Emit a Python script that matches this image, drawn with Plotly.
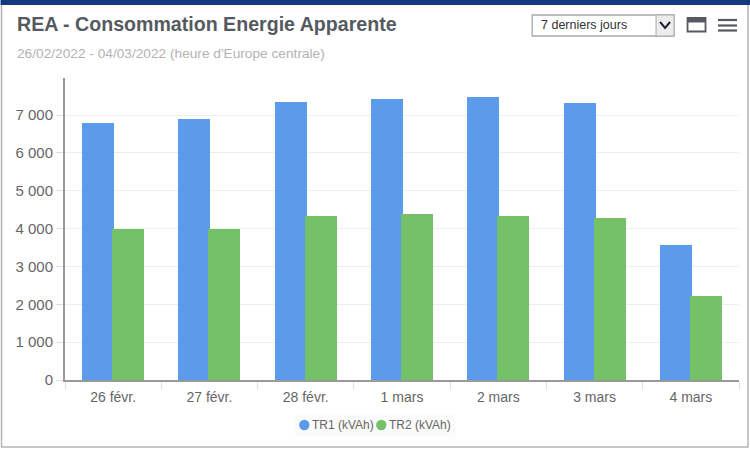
import plotly.graph_objects as go

categories = ["26 févr.", "27 févr.", "28 févr.", "1 mars", "2 mars", "3 mars", "4 mars"]
tr1 = [6790, 6890, 7350, 7430, 7470, 7320, 3570]
tr2 = [4000, 4000, 4340, 4390, 4340, 4290, 2230]
y_ticks = [0, 1000, 2000, 3000, 4000, 5000, 6000, 7000]
y_labels = ["0", "1 000", "2 000", "3 000", "4 000", "5 000", "6 000", "7 000"]
series_names = ["TR1 (kVAh)", "TR2 (kVAh)"]

W, H = 750, 450
L, R, T, B = 64.5, 739, 78, 380
BLUE, GREEN = "#5b9bea", "#74c167"
FONT = "Liberation Sans, Arial, sans-serif"

def X(v): return (v - L) / (R - L)
def Y(v): return (B - v) / (B - T)

fig = go.Figure()
fig.add_bar(x=categories, y=tr1, name=series_names[0], width=0.332, offset=-0.322,
            marker=dict(color=BLUE, line_width=0), hoverinfo="skip")
fig.add_bar(x=categories, y=tr2, name=series_names[1], width=0.332, offset=-0.01,
            marker=dict(color=GREEN, line_width=0), hoverinfo="skip")

def rect(x0, y0, x1, y1, **kw):
    return dict(type="rect", xref="paper", yref="paper", x0=X(x0), x1=X(x1), y0=Y(y0), y1=Y(y1), **kw)

def circle(cx, cy, r, color):
    return dict(type="circle", xref="paper", yref="paper", x0=X(cx - r), x1=X(cx + r), y0=Y(cy + r), y1=Y(cy - r),
                fillcolor=color, line_width=0)

shapes = [
    rect(1, 2, 748, 447, line=dict(color="#b4b4b4", width=1.5), fillcolor="rgba(0,0,0,0)", layer="below"),
    rect(0, 0, 750, 5, line_width=0, fillcolor="#14377d"),
    rect(532, 15, 674, 36, line=dict(color="#a8a8a8", width=1.3), fillcolor="white"),
    rect(656, 15, 674, 36, line=dict(color="#a8a8a8", width=1), fillcolor="#ececec"),
    dict(type="path", xref="paper", yref="paper",
         path=f"M {X(660)} {Y(22)} L {X(665)} {Y(28)} L {X(670)} {Y(22)}",
         line=dict(color="#1c2230", width=2)),
    rect(687.5, 18, 705.5, 31.5, line=dict(color="#555a60", width=1.8), fillcolor="white"),
    rect(687.5, 18, 705.5, 22.5, line_width=0, fillcolor="#555a60"),
    rect(295, 414, 455, 436, line_width=0, fillcolor="#fbfbfb", layer="below"),
    circle(304, 425, 5.2, BLUE),
    circle(381, 425, 5.2, GREEN),
]
for yy in (20, 25.5, 30.5):
    shapes.append(dict(type="line", xref="paper", yref="paper", x0=X(718), x1=X(737), y0=Y(yy), y1=Y(yy),
                       line=dict(color="#555a60", width=2.2)))

annotations = [
    dict(text="<b>REA - Consommation Energie Apparente</b>", x=X(15.5), y=Y(24.5), xanchor="left", yanchor="middle",
         font=dict(size=19.6, color="#555a60", family=FONT)),
    dict(text="26/02/2022 - 04/03/2022 (heure d'Europe centrale)", x=X(15.5), y=Y(53.5), xanchor="left", yanchor="middle",
         font=dict(size=13.7, color="#b3b3b3", family=FONT)),
    dict(text="7 derniers jours", x=X(540), y=Y(25), xanchor="left", yanchor="middle",
         font=dict(size=12.5, color="#333333", family=FONT)),
    dict(text=series_names[0], x=X(310.5), y=Y(425), xanchor="left", yanchor="middle",
         font=dict(size=12, color="#666666", family=FONT)),
    dict(text=series_names[1], x=X(387.5), y=Y(425), xanchor="left", yanchor="middle",
         font=dict(size=12, color="#666666", family=FONT)),
]
for a in annotations:
    a.update(xref="paper", yref="paper", showarrow=False, borderpad=0)

fig.update_layout(
    width=W, height=H, autosize=False,
    margin=dict(l=L, r=W - R, t=T, b=H - B, pad=0),
    paper_bgcolor="white", plot_bgcolor="white",
    barmode="overlay", bargap=0,
    shapes=shapes, annotations=annotations,
    font=dict(family=FONT, color="#666666"),
    showlegend=False,
    xaxis=dict(range=[-0.5, 6.5], type="category", categoryorder="array", categoryarray=categories,
               showgrid=False, showline=True, linecolor="#999999", linewidth=2,
               ticks="outside", ticklen=7, tickcolor="#dddddd", tickwidth=1, tickson="boundaries",
               ticklabelstandoff=3,
               tickfont=dict(size=14, color="#666666", family=FONT), zeroline=False, automargin=False),
    yaxis=dict(range=[0, 302 / 37.85 * 1000],
               tickmode="array", tickvals=y_ticks, ticktext=y_labels,
               showgrid=True, gridcolor="#eeeeee", gridwidth=1,
               showline=True, linecolor="#999999", linewidth=2,
               ticks="outside", ticklen=7, tickcolor="#dddddd", tickwidth=1,
               tickfont=dict(size=15, color="#666666", family=FONT), zeroline=False, automargin=False),
)

fig.write_html("out.html", config=dict(displayModeBar=False), post_script="document.body.style.margin='0';")
